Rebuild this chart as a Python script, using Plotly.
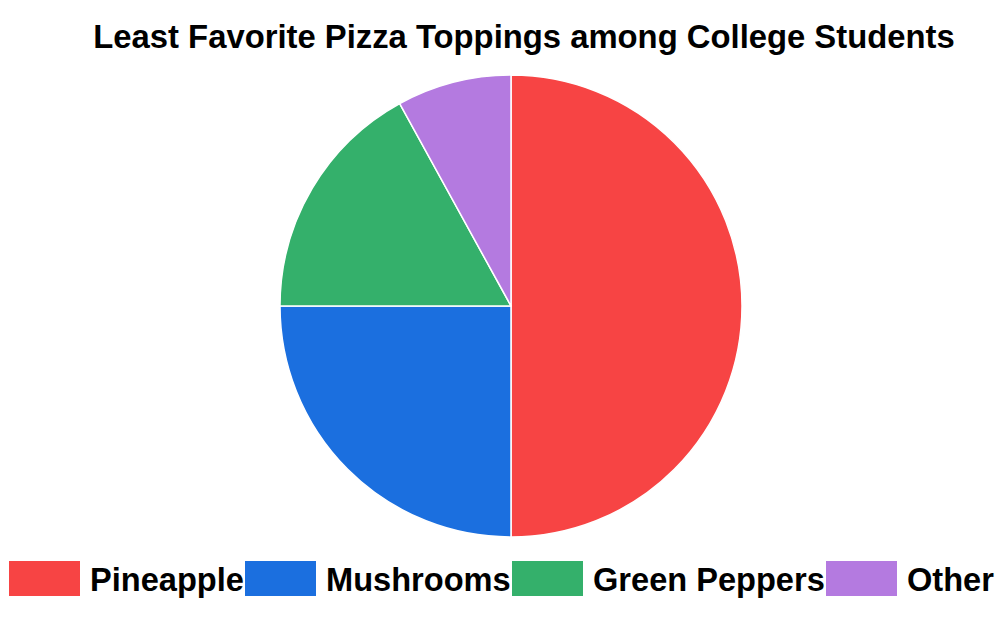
import plotly.graph_objects as go

title_text = "Least Favorite Pizza Toppings among College Students"
labels = ["Pineapple", "Mushrooms", "Green Peppers", "Other"]
values = [50, 25, 17, 8]
colors = ["#F74444", "#1B6FDF", "#34B06B", "#B47AE0"]

W, H = 1000, 621
ml, mr, mt, mb = 22, 0, 75, 84
pw, ph = W - ml - mr, H - mt - mb

def px_x(x):
    return (x - ml) / pw

def px_y(y):
    return (H - mb - y) / ph

fig = go.Figure(go.Pie(
    labels=labels,
    values=values,
    sort=False,
    direction="clockwise",
    rotation=0,
    textinfo="none",
    hoverinfo="label+percent",
    marker=dict(colors=colors, line=dict(color="white", width=1.5)),
    showlegend=False,
))

# custom legend with wide swatches, built from the category list
swatch_x = [9, 245, 512, 826]
sw_w, sw_top, sw_bot = 71, 561, 596
shapes, annotations = [], []
for lab, col, x0 in zip(labels, colors, swatch_x):
    shapes.append(dict(type="rect", xref="paper", yref="paper",
                       x0=px_x(x0), x1=px_x(x0 + sw_w),
                       y0=px_y(sw_bot), y1=px_y(sw_top),
                       fillcolor=col, line=dict(width=0)))
    annotations.append(dict(text=lab, xref="paper", yref="paper",
                            x=px_x(x0 + sw_w + 8), y=px_y(579),
                            xanchor="left", yanchor="middle", showarrow=False,
                            font=dict(family="Liberation Sans, Arial", size=32.6,
                                      color="black", weight="bold")))

fig.update_layout(
    width=W, height=H,
    margin=dict(l=ml, r=mr, t=mt, b=mb),
    paper_bgcolor="white", plot_bgcolor="white",
    title=dict(text=title_text, x=524 / W, xref="container", xanchor="center",
               y=1 - 37 / H, yref="container", yanchor="middle",
               font=dict(family="Liberation Sans, Arial", size=32.8,
                         color="black", weight="bold")),
    shapes=shapes,
    annotations=annotations,
)

fig.write_html("out.html",
               config={"displayModeBar": False},
               post_script="document.body.style.margin='0';document.body.style.overflow='hidden';")
